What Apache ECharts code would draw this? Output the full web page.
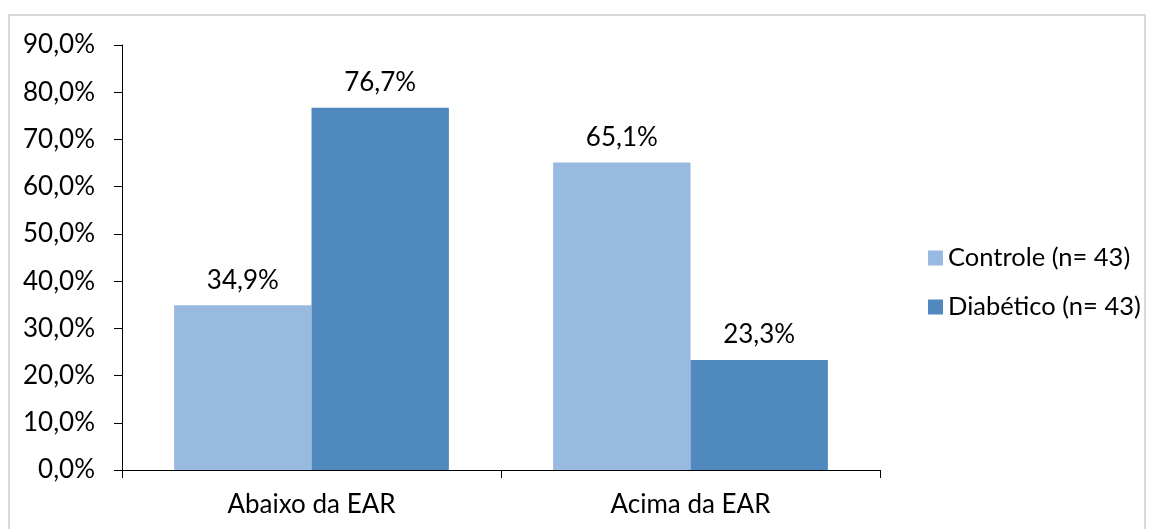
<!DOCTYPE html>
<html>
<head>
<meta charset="utf-8">
<script src="https://cdn.jsdelivr.net/npm/echarts@6/dist/echarts.min.js"></script>
<style>
  html, body { margin: 0; padding: 0; background: #fff; }
  #frame { position: absolute; left: 8px; top: 14px; width: 1138px; height: 520px; border: 2px solid #d9d9d9; box-sizing: border-box; }
  #chart { width: 1155px; height: 529px; }
</style>
</head>
<body>
<div id="frame"></div>
<div id="chart"></div>
<script>
  // dados do gráfico
  const categories = ['Abaixo da EAR', 'Acima da EAR']
  const seriesNames = ['Controle (n= 43)', 'Diabético (n= 43)']
  const controle = [34.9, 65.1]
  const diabetico = [76.7, 23.3]

  const fontFamily = 'Lato, "Liberation Sans", sans-serif'
  const fontSize = 26
  const fmt = v => v.toFixed(1).replace('.', ',') + '%'

  const chart = echarts.init(document.getElementById('chart'))
  const option = {
    animation: false,
    textStyle: { fontFamily: fontFamily },
    legend: {
      data: seriesNames,
      orient: 'vertical',
      left: 923,
      top: 240,
      itemWidth: 15,
      itemHeight: 15,
      itemGap: 23,
      icon: 'rect',
      textStyle: { fontSize: 25.5, color: '#000', fontFamily: fontFamily }
    },
    grid: {
      left: 122,
      right: 275,
      top: 45,
      bottom: 59
    },
    xAxis: {
      type: 'category',
      data: categories,
      axisLine: { lineStyle: { color: '#000', width: 1 } },
      axisTick: { show: true, length: 8, alignWithLabel: false, lineStyle: { color: '#000' } },
      axisLabel: { fontSize: fontSize, color: '#000', margin: 22, fontFamily: fontFamily }
    },
    yAxis: {
      type: 'value',
      min: 0,
      max: 90,
      interval: 10,
      axisLine: { show: true, lineStyle: { color: '#000', width: 1 } },
      axisTick: { show: true, length: 8, lineStyle: { color: '#000' } },
      splitLine: { show: false },
      axisLabel: {
        fontSize: fontSize,
        color: '#000',
        margin: 27,
        fontFamily: fontFamily,
        formatter: v => fmt(v)
      }
    },
    series: [
      {
        name: seriesNames[0],
        type: 'bar',
        data: controle,
        barGap: '0%',
        barCategoryGap: '27.5%',
        itemStyle: { color: '#98B9E0' },
        label: {
          show: true,
          position: 'top',
          distance: 12,
          fontSize: fontSize,
          color: '#000',
          fontFamily: fontFamily,
          formatter: p => fmt(p.value)
        }
      },
      {
        name: seriesNames[1],
        type: 'bar',
        data: diabetico,
        itemStyle: { color: '#4F89BD' },
        label: {
          show: true,
          position: 'top',
          distance: 12,
          fontSize: fontSize,
          color: '#000',
          fontFamily: fontFamily,
          formatter: p => fmt(p.value)
        }
      }
    ]
  }
  chart.setOption(option)

  window.addEventListener('resize', () => {
    chart.resize()
  })
</script>
</body>
</html>
